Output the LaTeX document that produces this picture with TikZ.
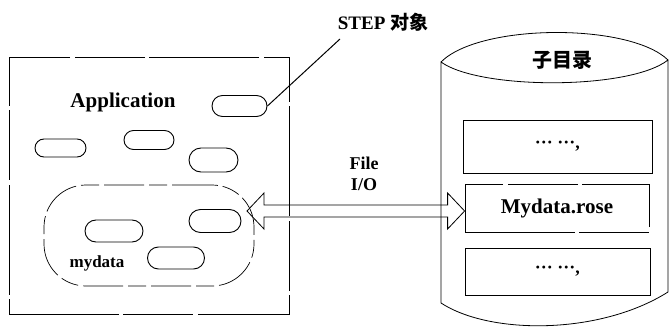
\documentclass[tikz,border=0pt]{standalone}
\usepackage{fontspec}
\setmainfont{Liberation Serif}
\newfontfamily\cjk{Noto Sans CJK SC}
\usetikzlibrary{shapes.misc,calc}
\tikzset{
  obj/.style={rounded rectangle,draw,line width=0.9pt,inner sep=0pt},
  fbox/.style={draw,line width=0.8pt,inner sep=0pt},
  lbl/.style={font=\bfseries,inner sep=0pt,align=center},
  brk/.style={dash pattern=on 110pt off 4pt on 70pt off 5pt},
}
\begin{document}
\begin{tikzpicture}[x=1pt,y=-1pt,line width=0.8pt]
\useasboundingbox (0,0) rectangle (670,329);
% application box
\node[fbox,brk,minimum width=280pt,minimum height=257pt] (app) at (149,185.5) {};
\node[lbl,font=\bfseries\fontsize{21}{21}\selectfont] (applbl) at (123,102) {Application};
% STEP objects
\node[obj,minimum width=55pt,minimum height=21pt] (s1) at (239.5,106) {};
\node[obj,minimum width=51pt,minimum height=18pt] (s2) at (60.5,148) {};
\node[obj,minimum width=50pt,minimum height=19pt] (s3) at (149,140) {};
\node[obj,minimum width=49pt,minimum height=24pt] (s4) at (213.5,160) {};
% mydata
\node[draw,rounded corners=42pt,inner sep=0pt,dash pattern=on 40pt off 5pt on 18pt off 5pt,line width=0.7pt,minimum width=210pt,minimum height=101pt] (md) at (149,235.5) {};
\node[obj,minimum width=52pt,minimum height=23pt] (s5) at (215,221) {};
\node[obj,minimum width=58pt,minimum height=22pt] (s6) at (114,231) {};
\node[obj,minimum width=57pt,minimum height=22pt] (s7) at (176,258) {};
\node[lbl,font=\bfseries\fontsize{17}{17}\selectfont] (mdlbl) at (97,263) {mydata};
% STEP label
\node[lbl,font=\bfseries\fontsize{19}{19}\selectfont] (steplbl) at (383,22) {STEP {\cjk\bfseries 对象}};
\coordinate (stepend) at (340,39);
\draw[line width=1pt] (stepend) -- (s1.east);
% cylinder
\draw[line width=0.8pt] (441,62) .. controls (480,23) and (630,23) .. (668,60)
  .. controls (630,90) and (480,90) .. (441,62) -- (441,303)
  .. controls (490,335) and (600,335) .. (668,292) -- (668,60);
\node[lbl,font=\cjk\bfseries\fontsize{20}{20}\selectfont] (dir) at (562,60) {子目录};
\node[fbox,minimum width=189pt,minimum height=53pt] (b1) at (557.5,146.5) {};
\node[lbl,font=\bfseries\fontsize{18}{18}\selectfont] at (b1) {··· ···,};
\node[fbox,brk,minimum width=184pt,minimum height=48pt] (b2) at (557,208) {};
\node[lbl,font=\bfseries\fontsize{21}{21}\selectfont] (b2lbl) at (557,208) {Mydata.rose};
\node[fbox,minimum width=185pt,minimum height=47pt] (b3) at (557.5,271.5) {};
\node[lbl,font=\bfseries\fontsize{18}{18}\selectfont] at (b3) {··· ···,};
% File I/O arrow
\coordinate (L) at (247,211);
\coordinate (R) at (b2.west |- L);
\draw[line width=0.8pt] (L) -- ++(17,-18) -- ++(0,12) -- ($(R)+(-17,-6)$) -- ++(0,-12) -- (R)
  -- ++(-17,18) -- ++(0,-12) -- ($(L)+(17,6)$) -- ++(0,12) -- cycle;
\node[lbl,font=\bfseries\fontsize{18}{21}\selectfont] (fio) at (364,174) {File\\I/O};
\end{tikzpicture}
\end{document}
